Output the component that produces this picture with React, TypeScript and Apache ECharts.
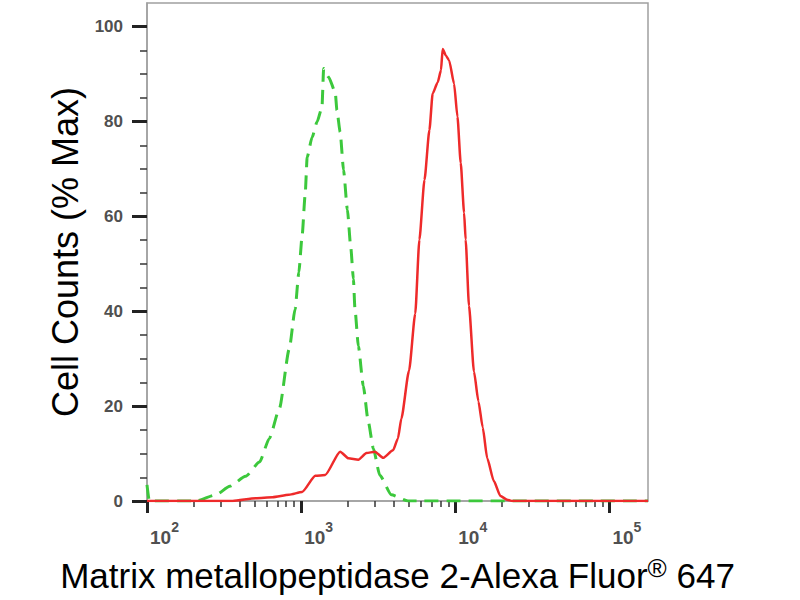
import React, { useEffect, useRef } from "react";
import * as echarts from "echarts";

// x values are log10(fluorescence intensity)
const controlLog = [2.0, 2.015, 2.318, 2.447, 2.537, 2.64, 2.73, 2.794, 2.859, 2.923, 2.961, 2.985, 3.006, 3.026, 3.039, 3.071, 3.103, 3.135, 3.146, 3.178, 3.221, 3.232, 3.253, 3.275, 3.3, 3.322, 3.339, 3.349, 3.371, 3.403, 3.435, 3.468, 3.51, 3.585, 3.693, 5.25];
const controlPct = [3.4, 0, 0, 1.3, 3.1, 5.2, 8.2, 13.2, 19.5, 32.1, 40.5, 48.2, 55.8, 64.6, 72.5, 76.7, 79.9, 83.0, 91.2, 89.4, 86.2, 82.4, 77.8, 69.8, 61.4, 53.4, 46.8, 40.5, 32.7, 24.3, 16.8, 11.1, 5.45, 1.3, 0, 0];

const stainedLog = [2.0, 2.556, 2.706, 2.814, 2.921, 3.006, 3.092, 3.156, 3.253, 3.307, 3.371, 3.424, 3.478, 3.532, 3.596, 3.628, 3.65, 3.7, 3.74, 3.767, 3.8, 3.832, 3.853, 3.886, 3.907, 3.918, 3.939, 3.96, 3.992, 4.014, 4.035, 4.057, 4.067, 4.089, 4.121, 4.15, 4.178, 4.207, 4.25, 4.293, 4.336, 4.37, 5.25];
const stainedPct = [0, 0, 0.6, 0.8, 1.3, 1.9, 5.3, 5.5, 10.4, 9.0, 8.7, 10.1, 10.4, 9.1, 10.7, 13.2, 17.4, 27.5, 39.5, 55.1, 67.7, 78.2, 85.9, 88.3, 90.8, 95.3, 93.9, 92.9, 88.0, 81.0, 71.3, 60.8, 55.1, 41.1, 27.3, 21.0, 15.5, 9.0, 4.2, 1.05, 0.27, 0, 0];

const xTickExponents = [2, 3, 4, 5];
const xMinorMultipliers = [2, 3, 4, 5, 6, 7, 8, 9];
const yTicks = [0, 20, 40, 60, 80, 100];
const yMinorTicks = [5, 10, 15, 25, 30, 35, 45, 50, 55, 65, 70, 75, 85, 90, 95];

const xTitle = "Matrix metallopeptidase 2-Alexa Fluor{r|®} 647";
const yTitle = "Cell Counts (% Max)";

const FONT = "Liberation Sans, Arial, Helvetica, sans-serif";

export default function App() {
  const ref = useRef<HTMLDivElement>(null);

  useEffect(() => {
    if (!ref.current) return;
    const chart = echarts.init(ref.current, null, { renderer: "svg" });
    const X_MIN = 2;
    const X_MAX = 5.25;
    const xMinor: number[] = [];
    xTickExponents.forEach((e) => {
      xMinorMultipliers.forEach((m) => {
        const v = e + Math.log10(m);
        if (v > X_MIN && v < X_MAX) xMinor.push(v);
      });
    });

    const control = controlLog.map((x, i) => [x, controlPct[i]]);
    const stained = stainedLog.map((x, i) => [x, stainedPct[i]]);

    chart.setOption({
      animation: false,
      backgroundColor: "#ffffff",
      grid: {
        left: 147,
        right: 152,
        top: 3,
        bottom: 97,
        show: true,
        borderColor: "#a0a0a0",
        borderWidth: 1.5,
        backgroundColor: "transparent",
      },
      xAxis: [
        {
          type: "value",
          min: X_MIN,
          max: X_MAX,
          position: "bottom",
          axisLine: { show: true, onZero: false, lineStyle: { color: "#a0a0a0", width: 1.5 } },
          splitLine: { show: false },
          axisTick: { show: true, customValues: xTickExponents, length: 12, lineStyle: { color: "#222", width: 3 } },
          axisLabel: {
            customValues: xTickExponents,
            align: "left",
            margin: 19,
            padding: [0, 0, 0, 3],
            fontSize: 19,
            fontWeight: "bold",
            color: "#505050",
            fontFamily: FONT,
            formatter: (v: number) => `{b|10}{s|${v}}`,
            rich: {
              b: { fontSize: 19, fontWeight: "bold", color: "#505050", fontFamily: FONT, lineHeight: 34 },
              s: { fontSize: 14, fontWeight: "bold", color: "#505050", fontFamily: FONT, lineHeight: 12, verticalAlign: "top" },
            },
          },
          name: xTitle,
          nameLocation: "middle",
          nameGap: 54,
          nameTextStyle: {
            fontSize: 35,
            color: "#000",
            fontFamily: FONT,
            lineHeight: 40,
            rich: { r: { fontSize: 26, color: "#000", fontFamily: FONT, lineHeight: 32, verticalAlign: "top" } },
          },
        },
        {
          type: "value",
          min: X_MIN,
          max: X_MAX,
          position: "bottom",
          axisLine: { show: false, onZero: false },
          splitLine: { show: false },
          axisLabel: { show: false },
          axisTick: { show: true, customValues: xMinor, length: 6, lineStyle: { color: "#333", width: 1.5 } },
        },
      ],
      yAxis: [
        {
          type: "value",
          min: 0,
          max: 105,
          position: "left",
          axisLine: { show: true, onZero: false, lineStyle: { color: "#a0a0a0", width: 1.5 } },
          splitLine: { show: false },
          axisTick: { show: true, customValues: yTicks, length: 15, lineStyle: { color: "#222", width: 3 } },
          axisLabel: { customValues: yTicks, margin: 24, fontSize: 17, fontWeight: "bold", color: "#505050", fontFamily: FONT },
          name: yTitle,
          nameLocation: "middle",
          nameGap: 60,
          nameRotate: 90,
          nameTextStyle: { fontSize: 36, color: "#000", fontFamily: FONT },
        },
        {
          type: "value",
          min: 0,
          max: 105,
          position: "left",
          axisLine: { show: false, onZero: false },
          splitLine: { show: false },
          axisLabel: { show: false },
          axisTick: { show: true, customValues: yMinorTicks, length: 7, lineStyle: { color: "#333", width: 1.5 } },
        },
      ],
      series: [
        {
          name: "Isotype control",
          type: "line",
          xAxisIndex: 0,
          yAxisIndex: 0,
          data: control,
          showSymbol: false,
          smooth: 0.2,
          smoothMonotone: "x",
          lineStyle: { color: "#3cc83c", width: 3, type: [14, 8] },
          z: 3,
        },
        {
          name: "MMP2",
          type: "line",
          xAxisIndex: 0,
          yAxisIndex: 0,
          data: stained,
          showSymbol: false,
          smooth: 0.2,
          smoothMonotone: "x",
          lineStyle: { color: "#ee2a2a", width: 2.5 },
          z: 4,
        },
      ],
    });
    return () => chart.dispose();
  }, []);

  return (
    <div
      ref={ref}
      style={{ position: "fixed", left: 0, top: 0, width: 800, height: 600, background: "#fff" }}
    />
  );
}
